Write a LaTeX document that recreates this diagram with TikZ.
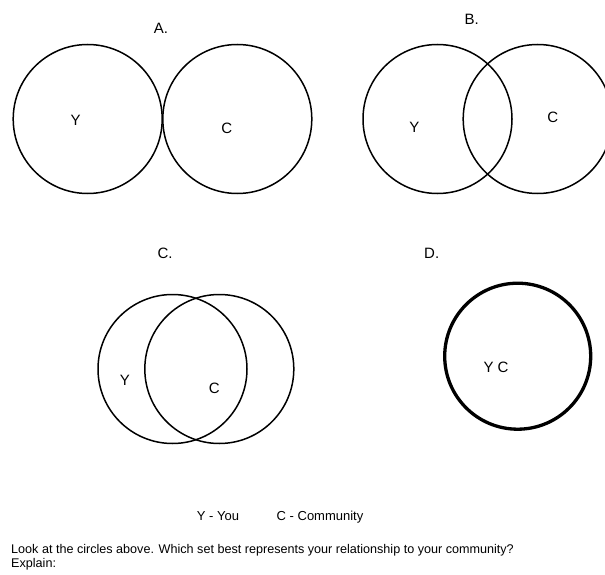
\documentclass[tikz,border=0pt]{standalone}
\usepackage{fontspec}
\setmainfont{Liberation Sans}
\begin{document}
\begin{tikzpicture}[x=1pt,y=-1pt,
  ring/.style={circle,draw=black,line width=1.5pt,minimum size=149pt,inner sep=0pt},
  thickring/.style={circle,draw=black,line width=3.3pt,minimum size=146pt,inner sep=0pt},
  lbl/.style={inner sep=0pt,anchor=base,font=\fontsize{15}{18}\selectfont},
  legend/.style={inner sep=0pt,font=\fontsize{13}{16}\selectfont},
  body/.style={inner sep=0pt,anchor=base west,font=\fontsize{12.6}{15}\selectfont}]
\useasboundingbox (0,0) rectangle (605,575);
\clip (0,0) rectangle (605,575);
% A
\node[ring] (ay) at (87.7,119) {};
\node[ring] (ac) at (237.3,119) {};
\node[lbl] (alab) at (161,33.4) {A.};
\node[lbl] (ayl) at (75.7,126) {Y};
\node[lbl] (acl) at (226.7,133.4) {C};
% B
\node[ring] (by) at (437.5,119) {};
\node[ring] (bc) at (537.7,119) {};
\node[lbl] (blab) at (471.7,24.4) {B.};
\node[lbl] (byl) at (414.3,133) {Y};
\node[lbl] (bcl) at (552.7,122.7) {C};
% C
\node[ring] (cy) at (172.5,369) {};
\node[ring] (cc) at (219.3,369) {};
\node[lbl] (clab) at (165,258) {C.};
\node[lbl] (cyl) at (125,385.4) {Y};
\node[lbl] (ccl) at (214.3,393.7) {C};
% D
\node[thickring] (d) at (517.7,356.2) {};
\node[lbl] (dlab) at (431.7,258) {D.};
\node[lbl] (dyc) at (496,372) {Y C};
% legend and text
\node[legend,anchor=base] (ly) at (218,520.4) {Y - You};
\node[legend,anchor=base west] (lc) at (276.5,520.4) {C - Community};
\node[body] (q) at (11,553.8) {Look at the circles above. Which set best represents your relationship to your community?};
\node[body] (ex) at (11,567.5) {Explain:};
\end{tikzpicture}
\end{document}
